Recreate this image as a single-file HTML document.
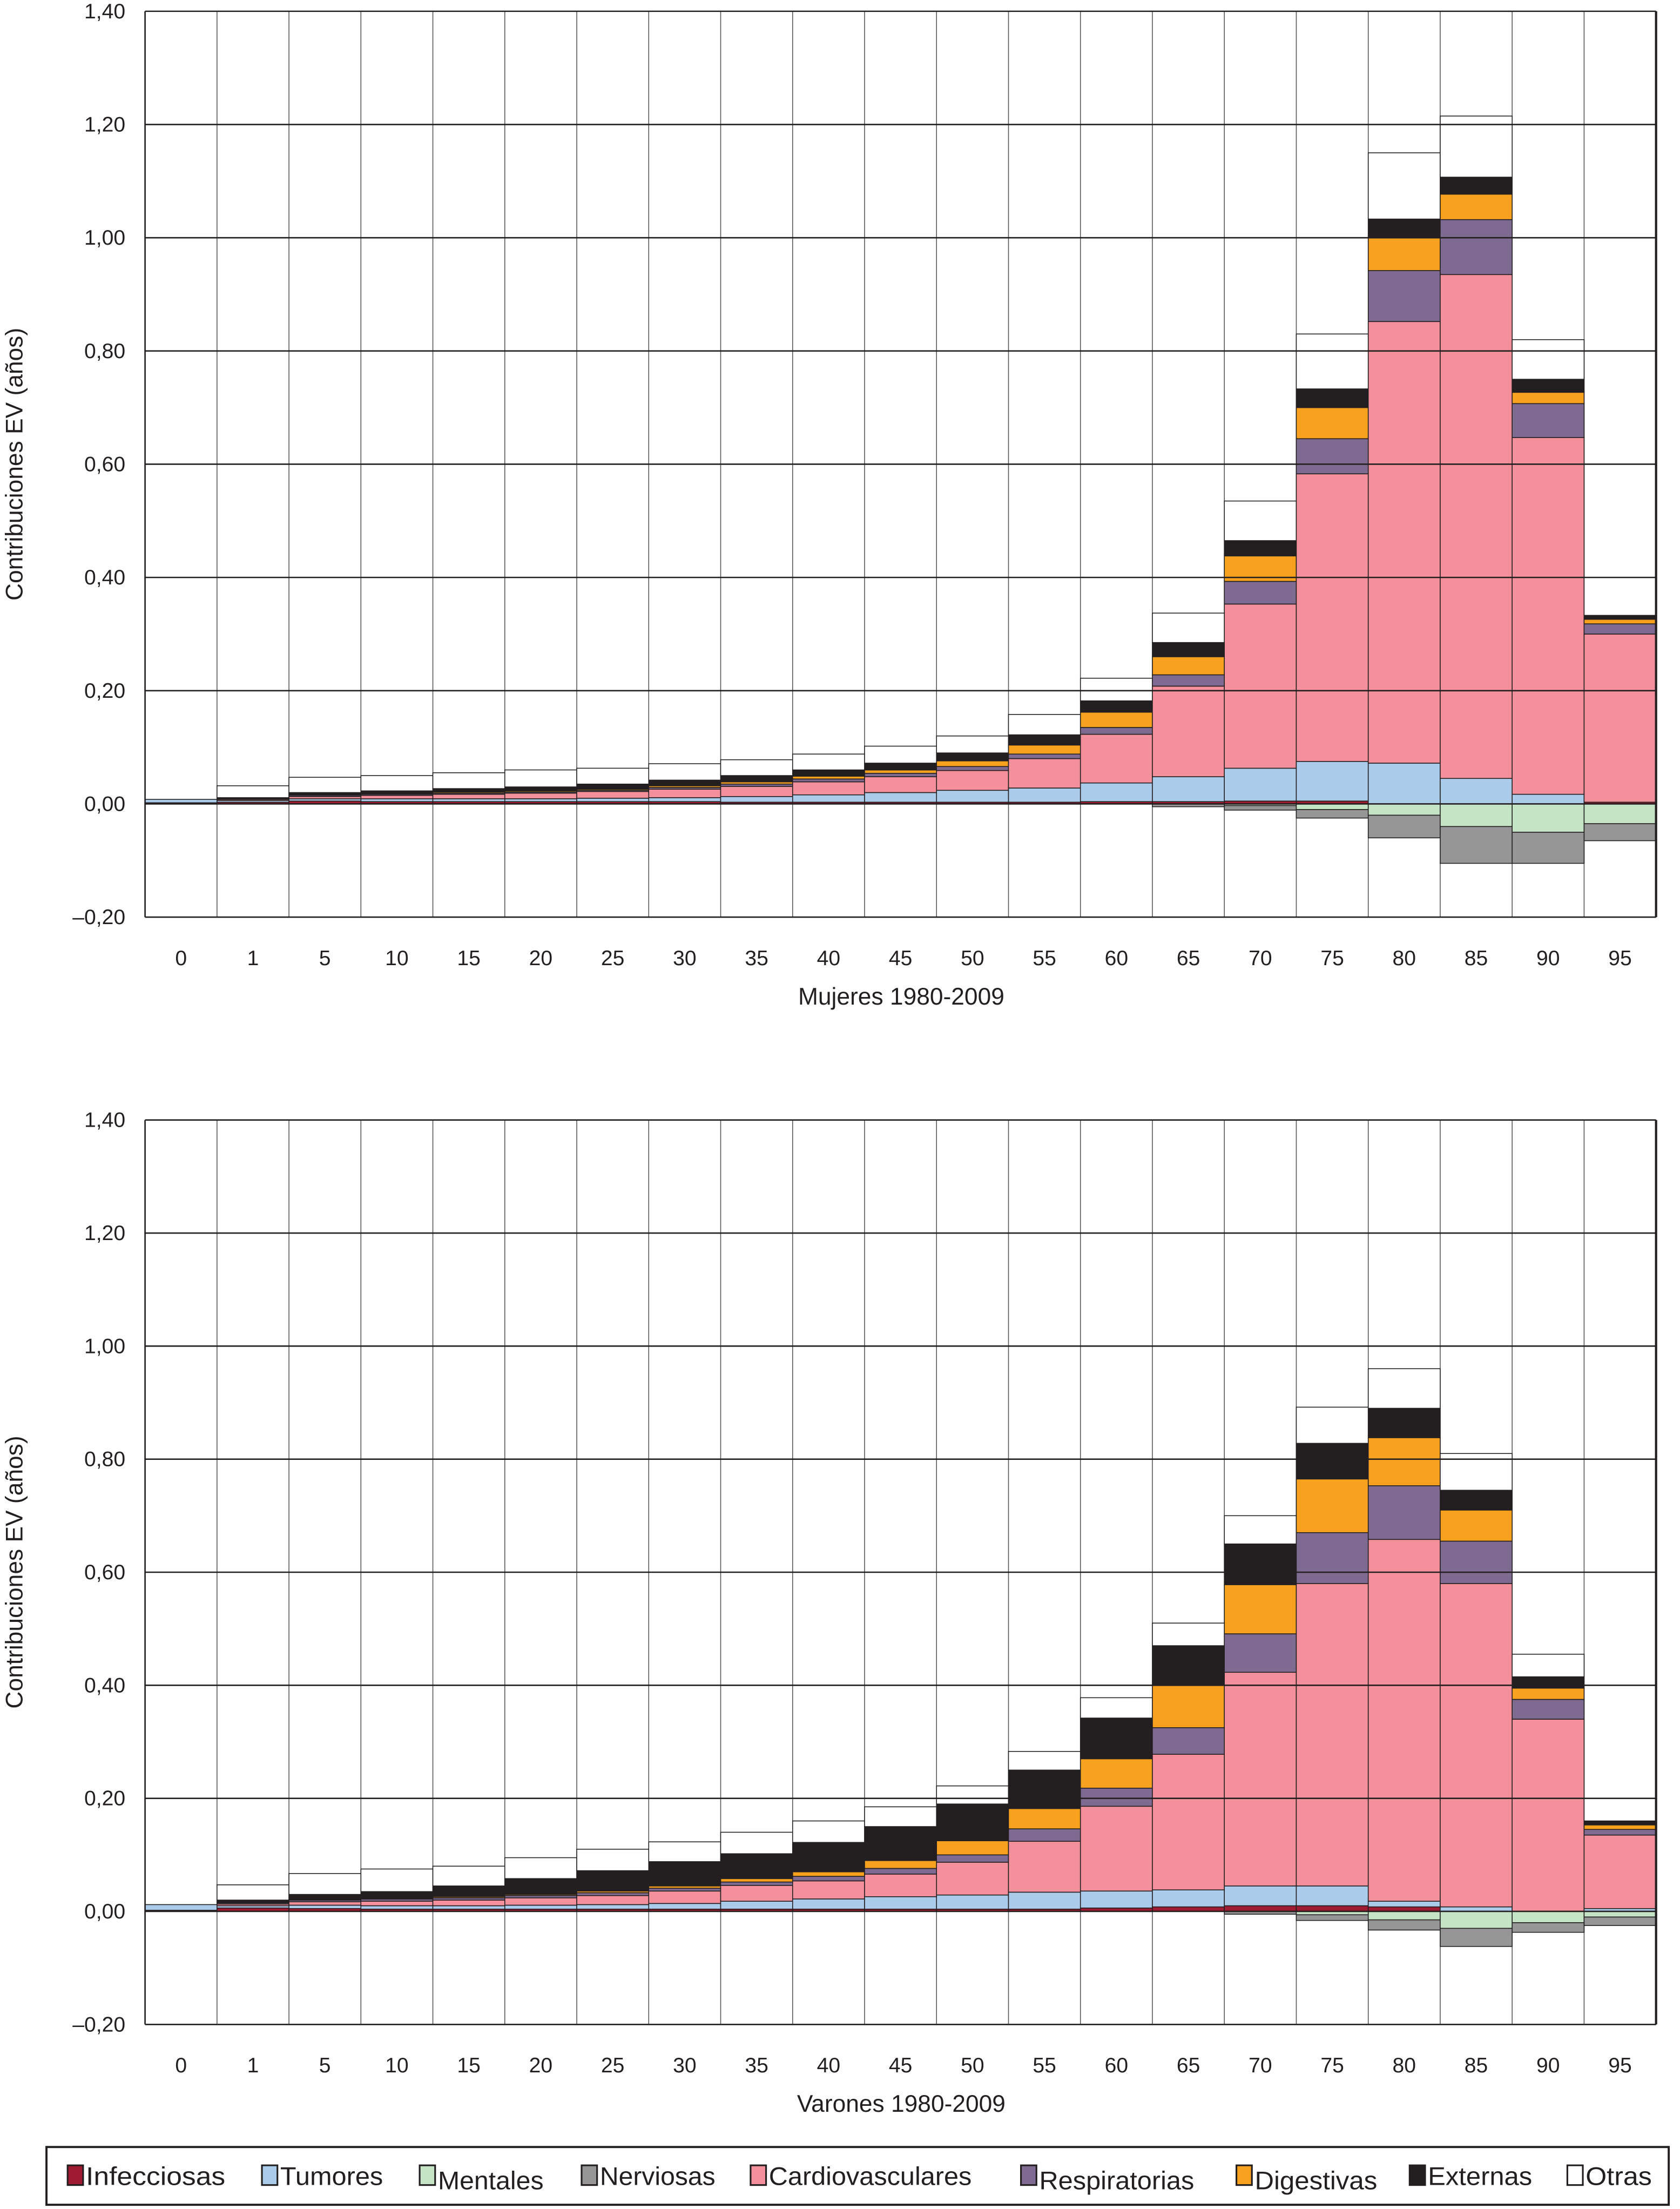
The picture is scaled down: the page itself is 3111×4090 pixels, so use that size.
<!DOCTYPE html>
<html><head><meta charset="utf-8"><style>
html,body{margin:0;padding:0;background:#fff}
svg{display:block}
text{font-family:"Liberation Sans",sans-serif;fill:#231f20}
</style></head><body>
<svg id="chart" width="3111" height="4090" viewBox="0 0 1193 1568" preserveAspectRatio="none" xmlns="http://www.w3.org/2000/svg"></svg>
<script>
const categories = ["0","1","5","10","15","20","25","30","35","40","45","50","55","60","65","70","75","80","85","90","95"];
const causes = ["Infecciosas","Tumores","Mentales","Nerviosas","Cardiovasculares","Respiratorias","Digestivas","Externas","Otras"];
const colors = ["#9e1b32","#abcbea","#c5e3c5","#969696","#f3909b","#7f6b91","#f7a11e","#231f20","#ffffff"];
const yTicks = [-0.2,0,0.2,0.4,0.6,0.8,1.0,1.2,1.4];
const yTickLabels = ["\u20130,20","0,00","0,20","0,40","0,60","0,80","1,00","1,20","1,40"];
// Mujeres: per category [inf, tum, ment, nerv, card, resp, dig, ext, otras]
const mujeres = [
 [0.002,0.006,0,0,0,0,0,0,0],
 [0.003,0.003,0,0,0.002,0,0,0.003,0.021],
 [0.005,0.004,0,0,0.004,0.002,0.001,0.004,0.027],
 [0.004,0.005,0,0,0.006,0.002,0.001,0.005,0.027],
 [0.004,0.005,0,0,0.008,0.002,0.002,0.006,0.028],
 [0.004,0.005,0,0,0.010,0.002,0.002,0.007,0.030],
 [0.004,0.006,0,0,0.012,0.002,0.002,0.009,0.028],
 [0.004,0.007,0,0,0.015,0.003,0.003,0.010,0.029],
 [0.003,0.010,0,0,0.018,0.004,0.004,0.011,0.028],
 [0.003,0.013,0,0,0.023,0.005,0.005,0.011,0.028],
 [0.003,0.017,0,0,0.028,0.006,0.006,0.012,0.030],
 [0.003,0.021,0,0,0.035,0.007,0.010,0.014,0.030],
 [0.003,0.025,0,0,0.052,0.008,0.016,0.018,0.036],
 [0.004,0.033,0,0,0.086,0.012,0.027,0.020,0.040],
 [0.004,0.044,0,-0.005,0.160,0.020,0.032,0.025,0.052],
 [0.005,0.058,-0.003,-0.008,0.290,0.040,0.045,0.027,0.070],
 [0.005,0.070,-0.010,-0.015,0.508,0.062,0.055,0.033,0.097],
 [0,0.072,-0.020,-0.040,0.780,0.090,0.060,0.031,0.117],
 [0,0.045,-0.040,-0.065,0.890,0.097,0.045,0.030,0.108],
 [0,0.017,-0.050,-0.055,0.630,0.060,0.020,0.023,0.070],
 [0.003,0,-0.035,-0.030,0.297,0.018,0.008,0.007,0.067]
];
const varones = [
 [0.002,0.010,0,0,0,0,0,0,0],
 [0.006,0.004,0,0,0.003,0.002,0,0.005,0.027],
 [0.005,0.006,0,0,0.006,0.003,0.001,0.009,0.037],
 [0.004,0.006,0,0,0.008,0.004,0.001,0.012,0.040],
 [0.004,0.006,0,0,0.010,0.004,0.002,0.019,0.035],
 [0.004,0.007,0,0,0.013,0.004,0.002,0.028,0.037],
 [0.004,0.008,0,0,0.016,0.005,0.003,0.036,0.038],
 [0.004,0.010,0,0,0.022,0.005,0.004,0.043,0.035],
 [0.004,0.014,0,0,0.028,0.006,0.006,0.044,0.038],
 [0.004,0.018,0,0,0.032,0.008,0.008,0.052,0.038],
 [0.004,0.022,0,0,0.040,0.010,0.014,0.060,0.035],
 [0.004,0.025,0,0,0.058,0.013,0.025,0.065,0.032],
 [0.004,0.030,0,0,0.090,0.022,0.036,0.068,0.033],
 [0.006,0.030,0,0,0.150,0.032,0.052,0.072,0.036],
 [0.008,0.030,0,0,0.240,0.047,0.075,0.070,0.040],
 [0.010,0.035,0,-0.005,0.378,0.068,0.087,0.072,0.050],
 [0.010,0.035,-0.006,-0.010,0.535,0.090,0.095,0.063,0.064],
 [0.008,0.010,-0.015,-0.018,0.640,0.095,0.085,0.052,0.070],
 [0,0.008,-0.030,-0.032,0.572,0.075,0.055,0.035,0.065],
 [0,0,-0.020,-0.017,0.340,0.035,0.020,0.020,0.040],
 [0,0.005,-0.010,-0.015,0.130,0.010,0.008,0.007,0.040]
];
const NS="http://www.w3.org/2000/svg";
const svg=document.getElementById('chart');
function mk(tag,attrs,parent){const e=document.createElementNS(NS,tag);for(const k in attrs)e.setAttribute(k,attrs[k]);(parent||svg).appendChild(e);return e;}
const X0=103, X1=1176, cw=(X1-X0)/categories.length;
function xPos(i){return X0+i*cw;}
function drawPanel(data,top,bottom,title,key){
  const g=mk('g',{});
  
  
  const yS=v=>bottom-(v-(-0.2))/(1.6)*(bottom-top);
  // vertical grid
  for(let i=0;i<=categories.length;i++){
    const l=mk('line',{x1:xPos(i),x2:xPos(i),y1:top,y2:bottom,stroke:'#555','stroke-width':0.6},g);
    
    
  }
  // bars
  data.forEach((row,i)=>{
    let pos=0,neg=0;
    row.forEach((v,k)=>{
      if(v===0)return;
      let y1,y2;
      if(v>0){y1=pos;y2=pos+v;pos=y2;}else{y1=neg+v;y2=neg;neg=y1;}
      const r=mk('rect',{x:xPos(i),y:yS(y2),width:cw,height:Math.max(0.3,yS(y1)-yS(y2)),fill:colors[k],stroke:'#231f20','stroke-width':0.6},g);
      
      
    });
  });
  // horizontal grid
  yTicks.forEach((t,j)=>{
    const l=mk('line',{x1:X0,x2:X1,y1:yS(t),y2:yS(t),stroke:'#231f20','stroke-width':1},g);
    
    
    const tx=mk('text',{x:89,y:yS(t)+5,'text-anchor':'end','font-size':15},g);
    tx.textContent=yTickLabels[j];
    
    
  });
  const ax=mk('line',{x1:X1,x2:X1,y1:top,y2:bottom,stroke:'#231f20','stroke-width':1.6},g);
  
  
  const lb=mk('line',{x1:X0,x2:X0,y1:top,y2:bottom,stroke:'#231f20','stroke-width':1},g);
  
  
  categories.forEach((c,i)=>{
    const tx=mk('text',{x:xPos(i)+cw/2,y:bottom+34,'text-anchor':'middle','font-size':15},g);
    tx.textContent=c;
    
    
  });
  const tt=mk('text',{x:640,y:bottom+62,'text-anchor':'middle','font-size':17},g);
  tt.textContent=title;
  
  
  const yt=mk('text',{x:0,y:0,'text-anchor':'middle','font-size':17,transform:`translate(16,${(top+bottom)/2}) rotate(-90)`},g);
  yt.textContent='Contribuciones EV (años)';
  
  
}
drawPanel(mujeres,8,651,'Mujeres 1980-2009','mujeres');
drawPanel(varones,795,1437,'Varones 1980-2009','varones');
// legend
const lg=mk('g',{});


mk('rect',{x:33,y:1524,width:1152,height:41,fill:'#fff',stroke:'#231f20','stroke-width':1.5},lg);
const lgSq=[48,186,298,413,533,725,878,1001,1113];
const lgTx=[[62,99],[203,73],[313,75],[428,82],[548,144],[740,110],[894,87],[1019,74],[1129,47]];
causes.forEach((c,k)=>{
  const e=mk('g',{},lg);
  
  
  const dy=(c==='Mentales'||c==='Respiratorias'||c==='Digestivas')?3:0;
  mk('rect',{x:lgSq[k],y:1537,width:11,height:14,fill:colors[k],stroke:'#231f20','stroke-width':1.2},e);
  const t=mk('text',{x:lgTx[k][0]-(lgTx[k][0]-lgSq[k]-13),y:1551+dy,'font-size':18,textLength:lgTx[k][1],lengthAdjust:'spacingAndGlyphs'},e);
  t.textContent=c;
});
</script>
</body></html>
